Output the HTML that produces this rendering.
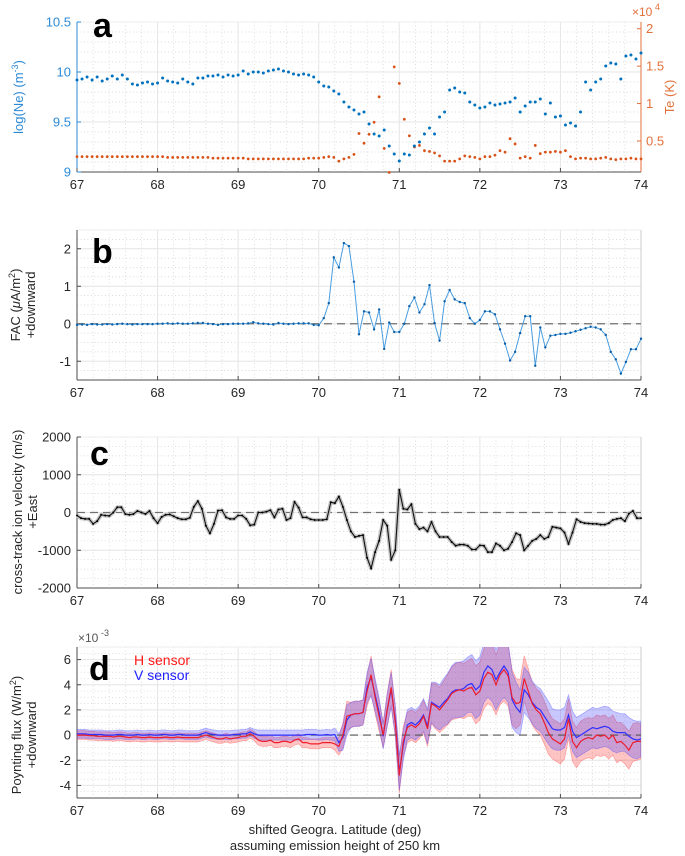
<!DOCTYPE html>
<html><head><meta charset="utf-8"><style>
html,body{margin:0;padding:0;background:#fff;}
svg{display:block;font-family:"Liberation Sans",sans-serif;}
</style></head><body>
<svg id="fig" width="685" height="856" viewBox="0 0 685 856" xmlns="http://www.w3.org/2000/svg"></svg>
<script>
// ---------- DATA ----------
const neVals = [9.92,9.93,9.95,9.92,9.95,9.91,9.93,9.96,9.93,9.97,9.93,9.88,9.87,9.89,9.90,9.88,
9.89,9.94,9.91,9.90,9.89,9.93,9.90,9.88,9.94,9.94,9.96,9.96,9.97,9.95,9.97,9.96,
9.97,10.01,9.98,10.00,10.00,9.99,10.01,10.02,10.03,10.01,10.00,9.98,9.97,9.98,9.97,9.95,
9.90,
9.86,9.85,9.81,9.78,9.70,9.65,9.62,9.58,
9.60,9.48,9.38,9.36,9.42,9.26,9.18,9.11,
9.18,9.17,9.26,9.30,9.38,9.44,9.38,9.55,
9.60,9.82,9.84,9.80,9.79,9.70,9.67,9.64,
9.65,9.69,9.67,9.68,9.69,9.70,9.74,9.60,
9.66,9.70,9.70,9.73,9.58,9.69,9.55,9.56,
9.47,9.49,9.46,9.60,9.90,9.82,9.90,9.93,
10.06,10.09,10.08,9.93,10.16,10.17,10.13,10.19];
const teVals = [0.29,0.29,0.29,0.29,0.29,0.29,0.29,0.29,0.29,0.29,0.29,0.29,0.29,0.29,0.29,0.29,
0.29,0.29,0.28,0.28,0.28,0.28,0.28,0.28,0.28,0.28,0.28,0.27,0.27,0.27,0.27,0.27,
0.27,0.27,0.26,0.26,0.26,0.26,0.26,0.26,0.26,0.26,0.26,0.26,0.26,0.26,0.27,0.27,
0.27,
0.28,0.29,0.28,0.23,0.26,0.28,0.32,
0.60,0.47,0.59,0.75,1.09,0.40,0.08,1.49,1.27,
0.79,0.57,0.42,0.44,0.37,0.36,0.34,0.30,0.23,0.23,0.23,0.26,0.30,0.29,0.28,0.26,0.29,0.29,0.31,0.37,
0.35,0.53,0.46,0.27,0.29,0.27,0.44,0.33,0.35,0.35,0.36,0.35,0.37,0.29,0.26,
0.27,0.27,0.26,0.26,0.27,0.28,0.26,0.25,0.26,0.26,0.27,0.26,0.26];
const facVals = [-0.03,-0.02,-0.03,-0.01,-0.02,-0.02,-0.01,-0.02,-0.01,0,-0.01,-0.02,-0.01,-0.01,-0.01,-0.01,
0,0,0.01,0,0.01,0,0,0.01,0.02,0.02,0,-0.01,-0.03,-0.01,-0.01,0,
0,0,0.01,0.04,0.01,0,-0.01,-0.02,0.02,0,-0.01,0,0.01,0.01,0.01,-0.03,
-0.04,
0.15,0.55,1.77,1.5,2.15,2.07,1.12,-0.28,0.33,0.3,
-0.15,0.38,-0.67,0.03,-0.22,-0.22,0,0.47,0.7,0.3,
0.52,1.03,0.02,-0.45,0.6,0.9,0.65,0.58,0.55,0.15,
0,0.1,0.33,0.33,0.25,-0.15,-0.53,-0.98,-0.75,-0.25,
0.2,0.2,-1.12,-0.1,-0.63,-0.32,-0.3,-0.27,-0.27,-0.24,
-0.2,-0.16,-0.12,-0.08,-0.1,-0.15,-0.3,-0.75,-0.95,-1.33,
-1.02,-0.68,-0.68,-0.4];
const velVals = [-80,-150,-170,-170,-300,-230,-60,-80,-90,0,140,140,-40,-60,-40,40,0,-40,40,-150,
-280,-120,-60,-50,-100,-150,-180,-180,-140,150,300,100,-350,-550,-300,50,60,-130,-170,-170,
-80,-80,-170,-340,-320,0,0,20,60,-130,80,100,-200,-150,280,130,-130,-130,-180,-200,
-200,-200,-180,270,250,420,150,-200,-500,-650,-620,-600,-1200,-1480,-1050,-750,-200,-350,-1250,-1000,
600,100,80,220,-300,-440,-400,-500,-250,-500,-650,-650,-650,-780,-880,-850,-850,-880,-980,-980,
-870,-880,-1050,-1050,-820,-880,-1000,-960,-780,-550,-600,-1000,-880,-750,-700,-600,-700,-650,-380,-400,
-420,-530,-830,-530,-180,-250,-280,-290,-300,-300,-320,-320,-280,-200,-170,-150,-230,-30,40,-150,
-150];
const hVals = [0,0,0,-0.05,-0.05,-0.1,-0.1,-0.1,-0.1,-0.15,-0.1,-0.1,-0.15,-0.2,-0.15,-0.15,-0.2,-0.2,-0.15,-0.2,
-0.2,-0.2,-0.15,-0.2,-0.2,-0.15,-0.2,-0.2,-0.2,-0.2,-0.2,-0.1,0,-0.1,-0.2,-0.3,-0.3,-0.2,-0.3,-0.25,
-0.2,-0.1,-0.1,0.1,-0.1,-0.4,-0.5,-0.5,-0.4,-0.6,-0.6,-0.5,-0.5,-0.6,-0.4,-0.3,-0.6,-0.6,-0.7,-0.7,
-0.7,-0.6,-0.6,-0.6,-0.7,-0.9,0,1.5,1.6,1.7,1.7,1.8,3.5,4.8,3.0,1.5,0,2.0,3.8,1.0,
-3.2,-0.5,0.6,0.8,0.6,0.9,1.5,0.5,2.5,2.3,2.0,2.4,2.8,3.3,3.5,3.6,3.5,3.7,3.8,3.2,
3.5,4.5,5.0,4.8,4.0,4.8,5.2,4.7,3.0,2.5,2.6,4.5,3.5,2.5,2.0,1.7,1.0,0.2,-0.3,-0.5,
-0.7,-0.3,1.3,-0.5,-1.0,-0.5,-0.3,-0.2,-0.3,0,-0.1,0,-0.3,0,-0.6,-0.5,-0.8,-1.2,-0.6,-0.5,
-0.5];
const vVals = [0.1,0.1,0.1,0.05,0.05,0.05,0.05,0,0,0,0.05,0.05,0,0,0,0.05,0,0,0.05,0,
0,0.05,0.05,0,0,0.05,0.05,0,0,0,0,0.1,0.2,0.1,0.05,0,0,0,0,0.05,
0.05,0.1,0.1,0.25,0.1,0,0,0,0,0,0,0,0,0,0,0,0,0.05,0.05,0.05,
0,0,0.05,0,0.05,-0.6,-0.2,1.2,1.6,1.7,1.7,1.8,3.8,4.6,3.2,1.8,-0.1,2.0,3.6,1.2,
-3.0,-0.8,0.8,1.0,0.8,1.1,1.6,0.7,2.6,2.4,2.2,2.6,2.9,3.4,3.6,3.6,3.7,4.0,4.1,3.6,
3.9,5.0,5.5,5.2,4.4,5.0,5.5,5.0,2.8,2.2,1.8,3.6,3.2,2.6,2.2,2.0,1.5,1.0,0.5,0.4,
0.4,0.6,1.6,0.3,-0.2,0,0.2,0.4,0.6,0.5,0.6,0.7,0.6,0.3,0.2,0.2,0.2,-0.1,-0.3,-0.4,
-0.3];
const errVals = [0.35,0.35,0.35,0.35,0.35,0.35,0.35,0.35,0.35,0.35,0.35,0.35,0.35,0.35,0.35,0.35,0.35,0.35,0.35,0.35,
0.35,0.35,0.35,0.35,0.35,0.35,0.35,0.35,0.35,0.35,0.35,0.35,0.35,0.35,0.35,0.35,0.35,0.35,0.35,0.35,
0.35,0.35,0.35,0.35,0.35,0.4,0.4,0.4,0.4,0.4,0.4,0.4,0.4,0.4,0.4,0.4,0.4,0.4,0.4,0.4,
0.4,0.4,0.4,0.4,0.5,0.7,1.0,1.2,1.0,1.0,1.0,1.0,1.2,1.5,1.3,1.2,1.0,1.3,1.4,1.2,
1.4,1.2,1.2,1.2,1.2,1.2,1.3,1.4,1.6,1.8,1.8,1.9,2.0,2.1,2.2,2.2,2.2,2.2,2.3,2.3,
2.3,2.4,2.5,2.5,2.4,2.4,2.5,2.4,2.2,2.0,1.8,1.8,1.8,1.7,1.7,1.7,1.7,1.7,1.6,1.6,
1.6,1.6,1.6,1.6,1.6,1.6,1.6,1.6,1.6,1.6,1.6,1.6,1.6,1.6,1.6,1.5,1.5,1.5,1.5,1.5,
1.4];
const xTicks = [67,68,69,70,71,72,73,74];
const neTicks = [9,9.5,10,10.5];
const teTicks = [0.5,1,1.5,2];
const facTicks = [-1,0,1,2];
const velTicks = [-2000,-1000,0,1000,2000];
const pfTicks = [-4,-2,0,2,4,6];

// ---------- HELPERS ----------
const NS="http://www.w3.org/2000/svg";
const svg=document.getElementById('fig');
function mk(tag,attrs,parent){const e=document.createElementNS(NS,tag);for(const k in attrs)e.setAttribute(k,attrs[k]);(parent||svg).appendChild(e);return e;}
const X0=77,X1=641;
const xs=v=>X0+(v-67)/7*(X1-X0);
const lat0625=i=>67+i*0.0625;
const lat05=i=>67+i*0.05;
function yScale(top,bot,vmin,vmax){return v=>bot-(v-vmin)/(vmax-vmin)*(bot-top);}
function txt(x,y,s,opt){const t=mk('text',Object.assign({x:x,y:y,'font-size':12,fill:'#262626'},opt||{}));t.textContent=s;return t;}

function panel(name,top,bot,vmin,vmax,yMinor,yMajor,yTicks,tickColor,axisColor){
  const g=mk('g',{});
  
  
  const ys=yScale(top,bot,vmin,vmax);
  for(let v=67;v<=74.001;v+=0.2){const x=xs(v);mk('line',{x1:x,x2:x,y1:top,y2:bot,stroke:'#cfcfcf','stroke-width':0.7,'stroke-dasharray':'1,2.5'},g);}
  for(let v=vmin;v<=vmax+1e-9;v+=yMinor){const y=ys(v);mk('line',{x1:X0,x2:X1,y1:y,y2:y,stroke:'#cfcfcf','stroke-width':0.7,'stroke-dasharray':'1,2.5'},g);}
  xTicks.forEach(v=>{const x=xs(v);mk('line',{x1:x,x2:x,y1:top,y2:bot,stroke:'#e6e6e6','stroke-width':1},g);});
  yMajor.forEach(v=>{const y=ys(v);mk('line',{x1:X0,x2:X1,y1:y,y2:y,stroke:'#e6e6e6','stroke-width':1},g);});
  mk('line',{x1:X0,x2:X1,y1:bot,y2:bot,stroke:'#4d4d4d','stroke-width':1},g);
  mk('line',{x1:X0,x2:X1,y1:top,y2:top,stroke:'#eeeeee','stroke-width':1},g);
  mk('line',{x1:X0,x2:X0,y1:top,y2:bot,stroke:axisColor||'#4d4d4d','stroke-width':1},g);
  mk('line',{x1:X1,x2:X1,y1:top,y2:bot,stroke:'#cccccc','stroke-width':1},g);
  xTicks.forEach(v=>{const x=xs(v);mk('line',{x1:x,x2:x,y1:bot,y2:bot-4,stroke:'#4d4d4d'},g);
    const t=txt(x,bot+17,String(v),{'text-anchor':'middle','font-size':13});
    });
  yTicks.forEach(v=>{const y=ys(v);mk('line',{x1:X0,x2:X0+4,y1:y,y2:y,stroke:axisColor||'#4d4d4d'},g);
    const t=txt(X0-6,y+4.5,String(v),{'text-anchor':'end','font-size':13,fill:tickColor||'#262626'});
    });
  return ys;
}
function letter(x,y,s){const t=txt(x,y,s,{'font-size':34,'font-weight':'bold',fill:'#000'});}
function ylabel(x,y,lines,color,size){const t=mk('text',{x:0,y:0,'font-size':size||13,fill:color||'#262626','text-anchor':'middle',transform:`translate(${x},${y}) rotate(-90)`});
  lines.forEach((l,i)=>{const ts=mk('tspan',{x:0,dy:i?15:0},t);ts.innerHTML=l;});return t;}
function pathFrom(vals,latf,ys){return vals.map((v,i)=>(i?'L':'M')+xs(latf(i)).toFixed(1)+','+ys(v).toFixed(1)).join('');}

// ---------- PANEL A ----------
const ysNe=panel('ne',22,172,9,10.5,0.1,[9,9.5,10,10.5],neTicks,'#2c8ad6','#2c8ad6');
const ysTe=yScale(22,172,0.085,2.09);
mk('line',{x1:X1,x2:X1,y1:22,y2:172,stroke:'#e3703a','stroke-width':1});
teTicks.forEach(v=>{const y=ysTe(v);mk('line',{x1:X1-4,x2:X1,y1:y,y2:y,stroke:'#e3703a'});
  const t=txt(X1+5,y+4.5,String(v),{'font-size':13,fill:'#e3703a'});});
const te10=txt(X1-9,16,'×10',{'font-size':12,fill:'#e3703a'});
txt(X1+14,10,'4',{'font-size':9,fill:'#e3703a'});
teVals.forEach((v,i)=>{const c=mk('circle',{cx:xs(lat0625(i)),cy:ysTe(v),r:1.4,fill:'#d95319'});
  });
neVals.forEach((v,i)=>{const c=mk('circle',{cx:xs(lat0625(i)),cy:ysNe(v),r:1.5,fill:'#0072bd'});
  });
letter(93,37,'a');
const l1=ylabel(23,97,['log(Ne) (m<tspan font-size="9" dy="-5">-3</tspan><tspan dy="5">)</tspan>'],'#2c8ad6');
const l2=ylabel(674,97,['Te (K)'],'#e3703a');

// ---------- PANEL B ----------
const ysF=panel('fac',230,380,-1.5,2.5,0.25,[-1,0,1,2],facTicks);
mk('line',{x1:X0,x2:X1,y1:ysF(0),y2:ysF(0),stroke:'#707070','stroke-width':1.3,'stroke-dasharray':'8,5'});
const fp=mk('path',{d:pathFrom(facVals,lat0625,ysF),fill:'none',stroke:'#4a9ee0','stroke-width':1});

facVals.forEach((v,i)=>{const c=mk('circle',{cx:xs(lat0625(i)),cy:ysF(v),r:1.2,fill:'#0b5fa8'});
  });
letter(92,263,'b');
const l3=ylabel(20,305,['FAC (<tspan font-style="italic">μ</tspan>A/m<tspan font-size="9" dy="-5">2</tspan><tspan dy="5">)</tspan>','+downward']);

// ---------- PANEL C ----------
const ysV=panel('velocity',437,588,-2000,2000,250,[-2000,-1000,0,1000,2000],velTicks);
mk('line',{x1:X0,x2:X1,y1:ysV(0),y2:ysV(0),stroke:'#707070','stroke-width':1.3,'stroke-dasharray':'8,5'});
const vb=mk('path',{d:pathFrom(velVals,lat05,ysV),fill:'none',stroke:'#c4c4c4','stroke-width':4,'stroke-linejoin':'round'});

const vl=mk('path',{d:pathFrom(velVals,lat05,ysV),fill:'none',stroke:'#111','stroke-width':1.1});

velVals.forEach((v,i)=>{const c=mk('circle',{cx:xs(lat05(i)),cy:ysV(v),r:1,fill:'#000'});
  });
letter(90,465,'c');
const l4=ylabel(22,512,['cross-track ion velocity (m/s)','+East']);

// ---------- PANEL D ----------
const ysP=panel('poynting',647,798,-5,7,0.5,[-4,-2,0,2,4,6],pfTicks);
mk('clipPath',{id:'clipD'});
mk('rect',{x:X0,y:647,width:X1-X0,height:151},document.getElementById('clipD'));
const gd=mk('g',{'clip-path':'url(#clipD)'});
function band(vals,color,name){
  const up=vals.map((v,i)=>xs(lat05(i)).toFixed(1)+','+ysP(v+errVals[i]).toFixed(1));
  const dn=vals.map((v,i)=>xs(lat05(i)).toFixed(1)+','+ysP(v-errVals[i]).toFixed(1)).reverse();
  const p=mk('path',{d:'M'+up.join('L')+'L'+dn.join('L')+'Z',fill:color,'fill-opacity':0.28,stroke:color,'stroke-opacity':0.35,'stroke-width':0.8},gd);
  
}
band(hVals,'#ff3030','h-sensor-band');
band(vVals,'#3a3aff','v-sensor-band');
mk('line',{x1:X0,x2:X1,y1:ysP(0),y2:ysP(0),stroke:'#555','stroke-width':1.2,'stroke-dasharray':'8,5'},gd);
const vp=mk('path',{d:pathFrom(vVals,lat05,ysP),fill:'none',stroke:'#3030ff','stroke-width':1.2},gd);

const hp=mk('path',{d:pathFrom(hVals,lat05,ysP),fill:'none',stroke:'#ee1c2c','stroke-width':1.2},gd);

letter(89,680,'d');
const lh=txt(134,665,'H sensor',{'font-size':14,fill:'#ff1a1a'});
const lv=txt(134,680,'V sensor',{'font-size':14,fill:'#2020ff'});
const ex=txt(78,642,'×10',{'font-size':12,fill:'#555'});
txt(101,636,'-3',{'font-size':9,fill:'#555'});
const l5=ylabel(36,735,['Poynting flux (W/m<tspan font-size="9" dy="-5">2</tspan><tspan dy="5">)</tspan>','+downward']);
l5.querySelector('tspan').setAttribute('dy','-15');
l5.querySelectorAll('tspan')[3].setAttribute('dy','15');

// x-axis title
const xt=txt(335,834,'shifted Geogra. Latitude (deg)',{'text-anchor':'middle','font-size':13});

const xt2=txt(335,850,'assuming emission height of 250 km',{'text-anchor':'middle','font-size':13});

</script>
</body></html>
